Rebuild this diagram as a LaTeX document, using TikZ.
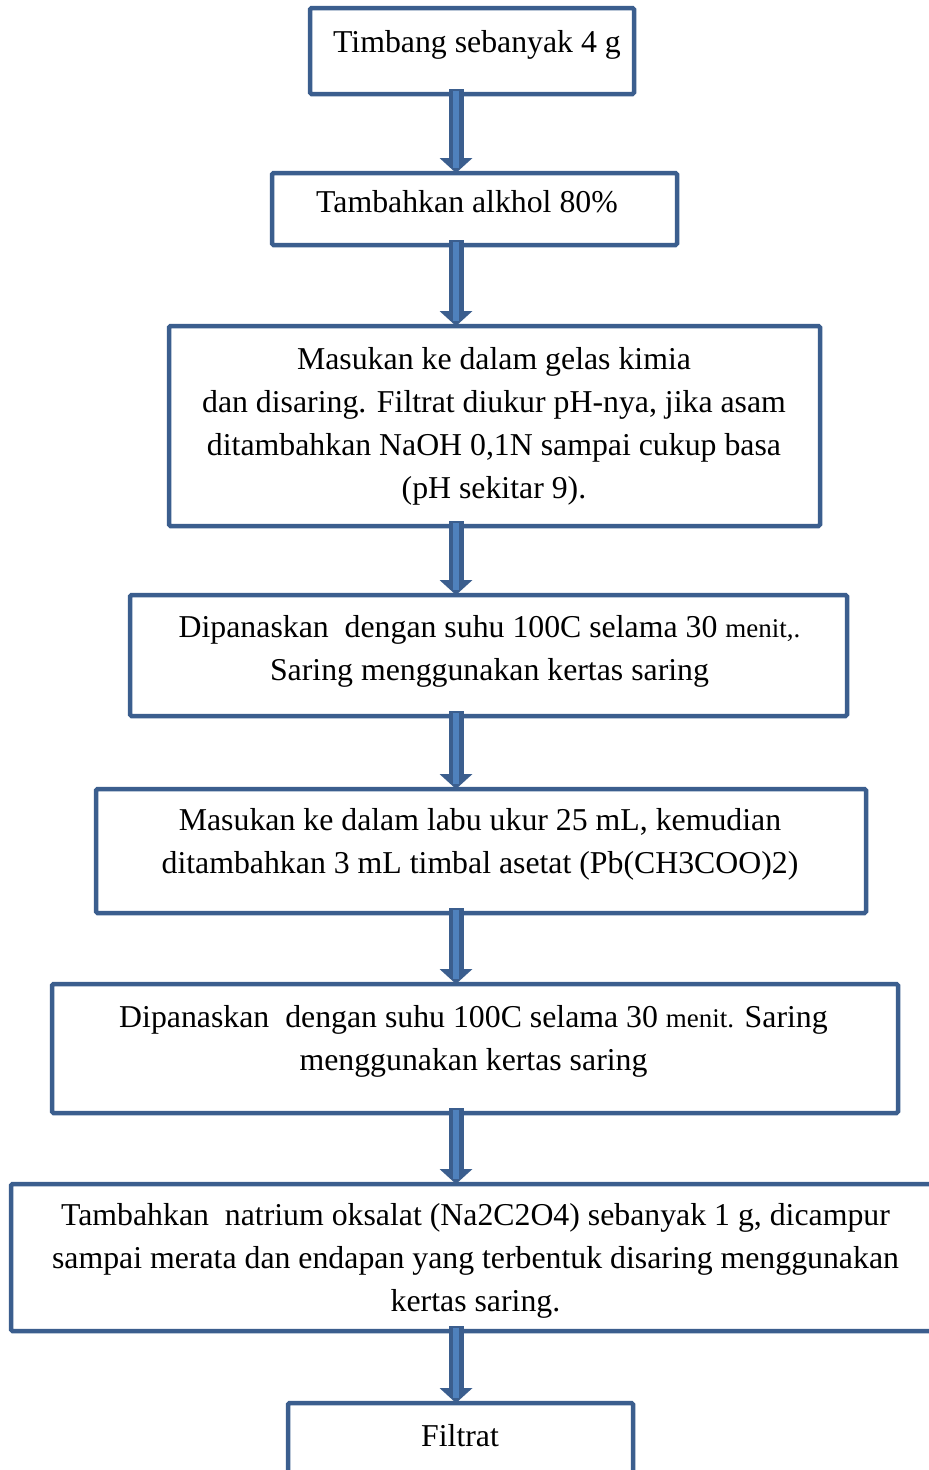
\documentclass[tikz,border=0pt]{standalone}
\usepackage{fontspec}
\setmainfont{Liberation Serif}
\usetikzlibrary{calc}
\definecolor{boxblue}{HTML}{3B5E8E}
\definecolor{lightblue}{HTML}{4F81BD}
\newcommand\stk[1]{\vtop{\baselineskip=43pt\lineskiplimit=-100pt\halign{\hfil##\hfil\cr#1\crcr}}}
\newcommand\smallmenit[1]{{\fontsize{27}{43}\selectfont #1}}
\tikzset{
  box/.style={draw=boxblue, line width=4.5pt, rectangle, rounded corners=1.5pt, outer sep=0pt, inner sep=0pt, fill=white},
  txt/.style={anchor=base, inner sep=0pt, font=\fontsize{31.8}{43}\selectfont},
  shaftout/.style={draw=boxblue, line width=15pt},
  shaftin/.style={draw=lightblue, line width=6pt},
  headfill/.style={fill=boxblue}
}
\newcommand\flow[2]{%
  \draw[shaftout] ($(#1.south -| ax)+(0,-5)$) -- ($(#2.north -| ax)+(0,-12)$);
  \fill[headfill] (#2.north -| ax) -- ++(-16.5,-15) -- ++(33,0) -- cycle;
  \draw[shaftin] ($(#1.south -| ax)+(0,-3)$) -- ($(#2.north -| ax)+(0,-5)$);
}
\begin{document}
\begin{tikzpicture}[x=1pt,y=-1pt]
\useasboundingbox (0,0) rectangle (929,1470);
\clip (0,0) rectangle (929,1470);
\fill[white] (0,0) rectangle (929,1470);
\coordinate (ax) at (456,0);
% boxes
\node[box, minimum width=324pt, minimum height=86pt] (b1) at (472,51) {};
\node[box, minimum width=405pt, minimum height=72pt] (b2) at (474.5,209) {};
\node[box, minimum width=651pt, minimum height=200pt] (b3) at (494.5,426) {};
\node[box, minimum width=717pt, minimum height=121pt] (b4) at (488.5,655.5) {};
\node[box, minimum width=770pt, minimum height=124pt] (b5) at (481,851) {};
\node[box, minimum width=846pt, minimum height=129pt] (b6) at (475,1048.5) {};
\node[box, minimum width=949pt, minimum height=147pt] (b7) at (485.5,1257.5) {};
\node[box, minimum width=345pt, minimum height=117pt] (b8) at (460.5,1461.5) {};
% texts
\node[txt] (t1) at (477,52) {\stk{Timbang sebanyak 4 g}};
\node[txt] (t2) at (467,212) {\stk{Tambahkan alkhol 80\%}};
\node[txt] (t3) at (494,369) {\stk{Masukan ke dalam gelas kimia\cr dan disaring. Filtrat diukur pH-nya, jika asam\cr ditambahkan NaOH 0,1N sampai cukup basa\cr (pH sekitar 9).}};
\node[txt] (t4) at (489.5,637) {\stk{Dipanaskan \ dengan suhu 100C selama 30 \smallmenit{menit,.}\cr Saring menggunakan kertas saring}};
\node[txt] (t5) at (480,830) {\stk{Masukan ke dalam labu ukur 25 mL, kemudian\cr ditambahkan 3 mL timbal asetat (Pb(CH3COO)2)}};
\node[txt] (t6) at (473.5,1027) {\stk{Dipanaskan \ dengan suhu 100C selama 30 \smallmenit{menit.} Saring\cr menggunakan kertas saring}};
\node[txt] (t7) at (475.5,1225) {\stk{Tambahkan \ natrium oksalat (Na2C2O4) sebanyak 1 g, dicampur\cr sampai merata dan endapan yang terbentuk disaring menggunakan\cr kertas saring.}};
\node[txt] (t8) at (460,1446) {\stk{Filtrat}};
% connectors
\flow{b1}{b2}
\flow{b2}{b3}
\flow{b3}{b4}
\flow{b4}{b5}
\flow{b5}{b6}
\flow{b6}{b7}
\flow{b7}{b8}
\end{tikzpicture}
\end{document}
